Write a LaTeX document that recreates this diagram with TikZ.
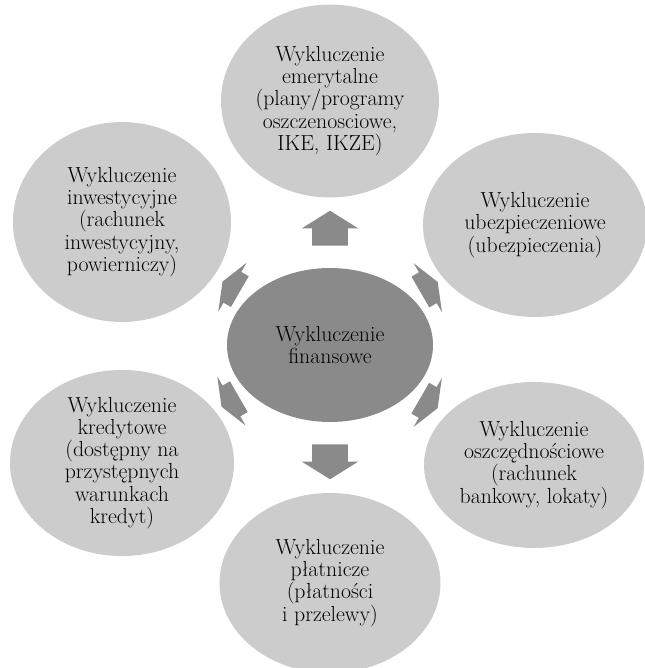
\documentclass[tikz,border=0pt]{standalone}
\usepackage{fontspec}
\usetikzlibrary{shapes.geometric,shapes.arrows,calc}
\definecolor{hubgray}{RGB}{138,138,138}
\definecolor{ringgray}{RGB}{204,204,204}

\begin{document}
\begin{tikzpicture}[
  hub/.style={ellipse, fill=hubgray, align=center, inner sep=0pt, font=\fontsize{15.5}{15.8}\selectfont},
  ring/.style={ellipse, fill=ringgray, align=center, inner sep=0pt, font=\fontsize{15.5}{15.8}\selectfont},
  blockarrow/.style={single arrow, fill=hubgray, minimum height=0.875cm, minimum width=1.4cm,
    inner xsep=0pt, inner ysep=0.4375cm, single arrow head extend=0.2625cm, single arrow tip angle=116},
  flatarrow/.style={blockarrow, minimum height=0.5cm, single arrow tip angle=136},
]
\useasboundingbox (-8.25,-8.075) rectangle (7.875,8.625);

% === centre ===
\node[hub, minimum width=5.15cm, minimum height=3.85cm] (hub) at (0,0) {Wykluczenie\\finansowe};

% === ring of ellipses ===
\node[ring, minimum width=5.45cm, minimum height=4.825cm] (retire) at (0,6.1)
  {Wykluczenie\\emerytalne\\(plany/programy\\oszczenosciowe,\\IKE, IKZE)};
\node[ring, minimum width=5.6cm, minimum height=4.6cm] (insure) at (5.125,3.0)
  {Wykluczenie\\ubezpieczeniowe\\(ubezpieczenia)};
\node[ring, minimum width=5.5cm, minimum height=4.15cm] (savings) at (5.1,-3.0)
  {Wykluczenie\\oszczędnościowe\\(rachunek\\bankowy, lokaty)};
\node[ring, minimum width=5.525cm, minimum height=4.5cm] (payment) at (0,-5.95)
  {Wykluczenie\\płatnicze\\(płatności\\i przelewy)};
\node[ring, minimum width=5.6cm, minimum height=4.6cm] (credit) at (-5.2,-2.95)
  {Wykluczenie\\kredytowe\\(dostępny na\\przystępnych\\warunkach\\kredyt)};
\node[ring, minimum width=5.45cm, minimum height=5.0cm] (invest) at (-5.2,3.075)
  {Wykluczenie\\inwestycyjne\\(rachunek\\inwestycyjny,\\powierniczy)};

% === arrows out of the centre ===
\foreach \n/\ang in {retire/90, payment/-90}
  \node[blockarrow, rotate=\ang] (to-\n) at ($(hub.center)!2.78cm!(\n.center)$) {};
\foreach \n/\ang in {insure/30, savings/-30, credit/-150, invest/150}
  \node[flatarrow, rotate=\ang] (to-\n) at ($(hub.center)!2.78cm!(\n.center)$) {};

\end{tikzpicture}
\end{document}
